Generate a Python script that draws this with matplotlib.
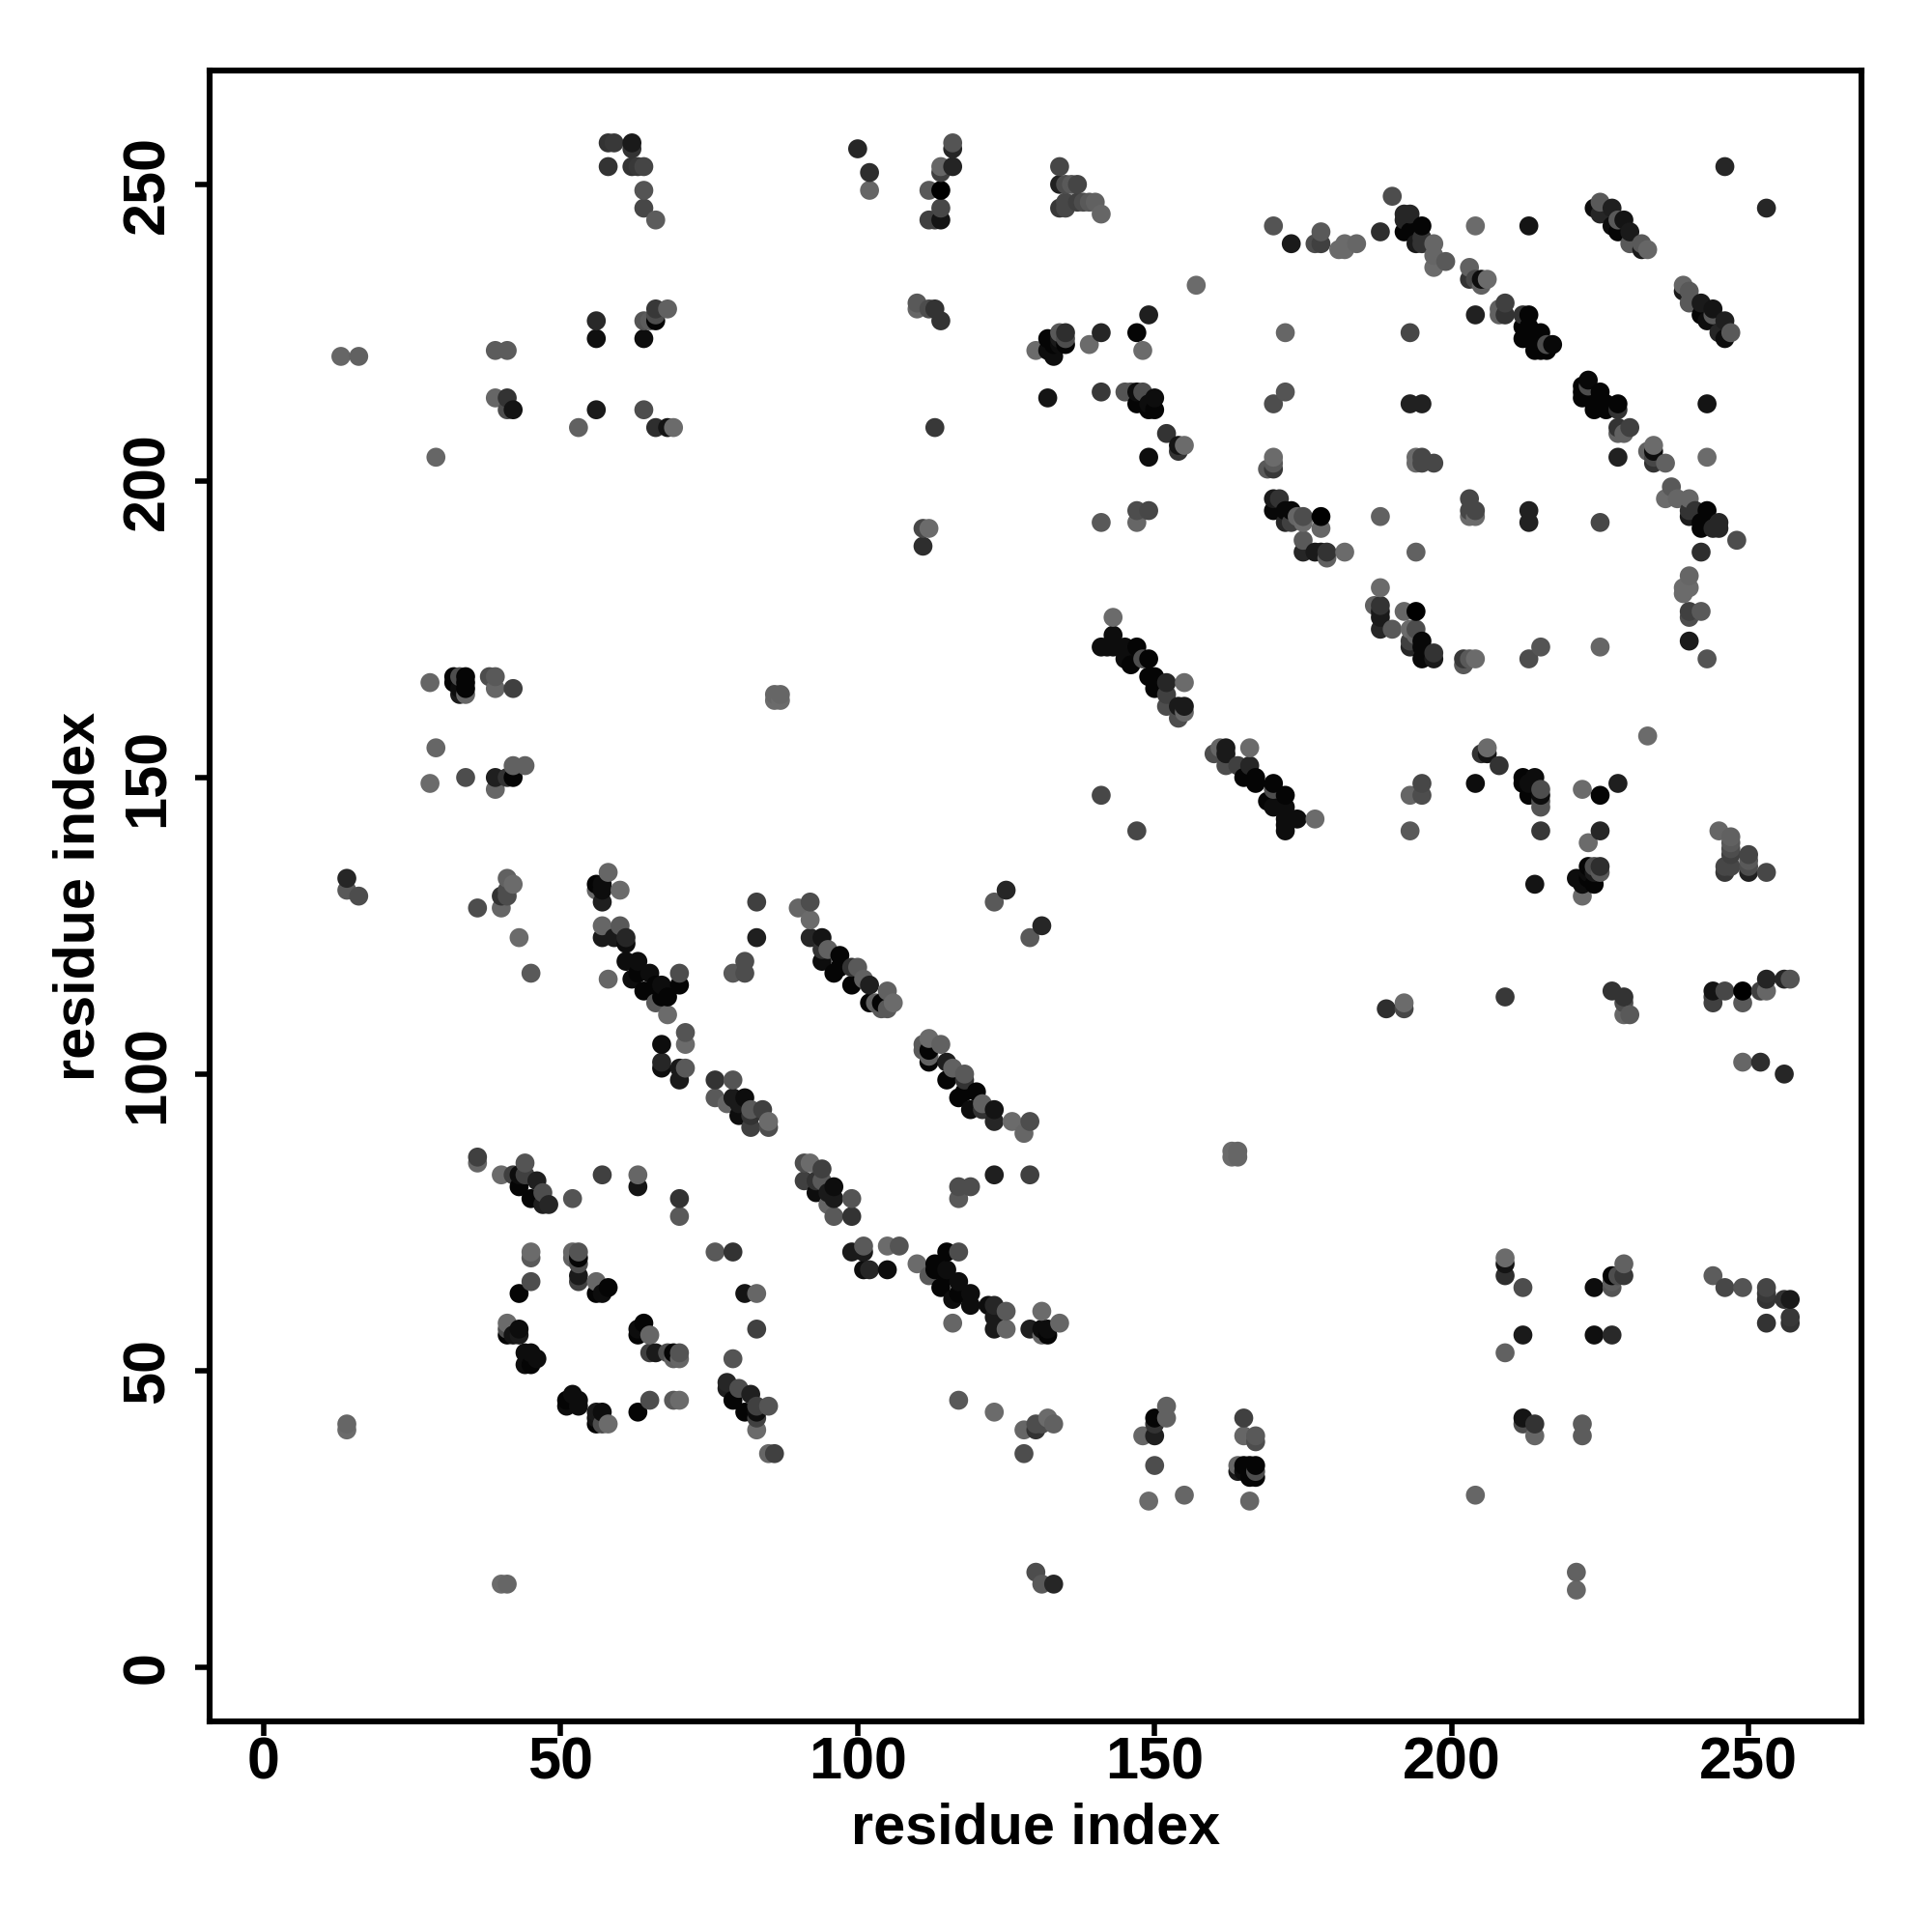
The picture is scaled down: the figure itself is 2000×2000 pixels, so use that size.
import numpy as np
import matplotlib
matplotlib.use("Agg")
import matplotlib.pyplot as plt

res_i = [
    58, 59, 62, 62, 58, 62, 63, 64, 64, 64, 66,
    66, 68, 56, 64, 65, 66, 66, 56, 64, 13, 16, 39, 41, 39, 41, 41, 42, 56, 64, 53, 66, 68, 69, 29,
    100, 102, 102, 116, 116, 116, 114, 114, 112, 114, 114, 112, 113, 114,
    134, 134, 135, 136, 137, 134, 135, 135, 137, 138, 139, 140, 141, 170, 173, 157,
    110, 110, 112, 113, 114, 149, 141, 147, 135, 134, 172, 139, 148, 130, 132, 132, 133, 133, 135, 134, 134, 135,
    132, 141, 145, 146, 147, 148, 147, 149, 150, 150, 149, 113, 152, 154, 154, 155, 149, 170, 170, 169, 170,
    170, 171, 170, 172, 173, 172, 173, 174, 175, 175, 175, 175, 147, 149, 141, 147, 111, 112, 111,
    143, 143, 172, 170,
    190, 246, 192, 193, 192, 192, 193, 194, 195, 195, 195, 188, 178, 178, 177, 181, 182, 182, 184, 197, 197, 197, 199,
    204, 213, 203, 203, 204, 205, 205, 206, 204, 209, 208, 208, 209, 212, 213, 212, 213, 212, 214, 215, 214, 215, 214, 216, 216, 217, 193,
    225, 224, 225, 227, 227, 228, 229, 228, 230, 230, 232, 232, 233,
    193, 195, 194, 195, 194, 195, 197, 178, 178, 177, 178, 179, 179, 182, 188,
    141, 142, 143, 145, 147, 149, 146, 148, 149, 150, 150, 152, 152, 152, 155, 155, 154, 154, 155, 145,
    141, 125, 123, 86, 87, 86, 87,
    90, 92, 92, 92, 94, 94, 95, 94, 96, 97, 97, 99, 99, 100, 101, 102, 102, 103, 104, 105, 105, 106, 104,
    28, 32, 32, 33, 33, 34, 34, 34, 34, 33, 38, 39, 39, 42,
    29, 28, 34, 39, 41, 42, 39, 42, 44,
    14, 14, 16, 41, 42, 40, 41, 40, 41, 36, 43, 45,
    58, 56, 57, 57, 56, 57, 60, 57, 57, 60, 59, 61, 61, 58,
    61, 63, 63, 62, 64, 65, 66, 67, 68, 67, 70, 70, 68, 66,
    71, 71, 67, 67, 67, 71, 70, 70, 76, 79, 76, 78, 79, 81, 80, 82, 82, 80,
    85, 85, 82, 84, 83, 83, 81, 79, 81,
    36, 36, 57, 63, 63, 70, 70, 52, 40, 44, 42, 43, 43, 44, 46, 45, 47, 47, 48,
    45, 45, 45, 43, 52, 53, 52, 53, 53, 53, 53, 56, 56, 57, 58,
    41, 41, 43, 41, 42, 43, 44, 45, 46, 44, 45,
    14, 14,
]
res_j = [
    257, 257, 257, 256, 253, 253, 253, 253, 249, 246, 244,
    229, 229, 227, 227, 227, 228, 227, 224, 224, 221, 221, 222, 222, 214, 214, 212, 212, 212, 212, 209, 209, 209, 209, 204,
    256, 252, 249, 257, 256, 253, 253, 252, 249, 249, 246, 244, 244, 244,
    253, 250, 250, 250, 250, 246, 247, 246, 247, 247, 247, 247, 245, 243, 240, 233,
    230, 229, 229, 229, 227, 228, 225, 225, 225, 225, 225, 223, 222, 222, 224, 222, 223, 221, 223, 223, 224, 224,
    214, 215, 215, 215, 215, 215, 213, 213, 214, 212, 212, 209, 208, 205, 206, 206, 204, 204, 202, 202, 203,
    197, 197, 195, 195, 195, 193, 193, 194, 194, 193, 190, 188, 195, 195, 193, 193, 192, 192, 189,
    177, 174, 215, 213,
    248, 253, 245, 245, 244, 242, 242, 240, 243, 241, 240, 242, 242, 240, 240, 239, 240, 239, 240, 240, 238, 236, 237,
    243, 243, 236, 234, 234, 234, 233, 234, 228, 230, 229, 228, 228, 228, 228, 226, 226, 224, 225, 225, 223, 222, 222, 222, 223, 223, 225,
    247, 246, 245, 246, 243, 242, 244, 244, 242, 240, 240, 239, 239,
    213, 213, 204, 204, 203, 203, 203, 194, 192, 188, 188, 188, 187, 188, 194,
    172, 172, 172, 172, 172, 170, 169, 170, 167, 167, 165, 166, 164, 162, 166, 162, 162, 160, 161, 170,
    147, 131, 129, 164, 164, 163, 163,
    128, 129, 126, 123, 123, 121, 121, 119, 117, 120, 118, 115, 118, 118, 116, 115, 112, 112, 112, 114, 111, 112, 111,
    166, 167, 166, 167, 165, 167, 166, 165, 164, 164, 167, 167, 165, 165,
    155, 149, 150, 150, 150, 150, 148, 152, 152,
    133, 131, 130, 133, 132, 130, 130, 128, 131, 128, 123, 117,
    134, 132, 132, 131, 131, 129, 131, 125, 123, 125, 123, 123, 122, 116,
    119, 119, 117, 116, 114, 117, 115, 113, 113, 115, 115, 117, 110, 112,
    107, 105, 105, 102, 101, 101, 101, 99, 99, 99, 96, 95, 96, 96, 93, 94, 91, 95,
    92, 91, 93, 94, 129, 123, 119, 117, 117,
    86, 85, 83, 83, 81, 79, 76, 79, 83, 85, 83, 81, 83, 83, 82, 79, 80, 78, 78,
    70, 69, 65, 63, 70, 70, 69, 69, 68, 66, 65, 65, 63, 63, 64,
    58, 57, 57, 56, 56, 56, 53, 53, 52, 51, 51,
    41, 40,
]
grey = [
    .2, .22, .1, .2, .2, .2, .22, .27, .33, .28, .36,
    .22, .38, .16, .33, .36, .3, .02, .06, .05, .4, .38, .36, .36, .4, .2, .3, .08, .1, .3, .38, .18, .08, .42, .4,
    .15, .18, .4, .33, .15, .14, .4, .25, .35, 0, .28, .25, .25, .08,
    .28, .13, .3, .35, .27, .22, .28, .28, .25, .3, .35, .38, .4, .33, .1, .42,
    .35, .4, .3, .2, .2, .12, .15, .02, .18, .35, .4, .42, .42, .42, .02, .05, .02, .05, .02, .05, .1, .3,
    .08, .22, .33, .33, .05, .3, .02, .05, .05, .02, .02, .22, .2, .2, .08, .42, .05, .42, .22, .35, .35,
    .1, .2, .03, .03, .03, .15, .25, .4, .3, .42, .35, .15, .3, .28, .35, .4, .28, .42, .18,
    .42, .05, .33, .3,
    .3, .15, .15, .15, .15, .02, .02, .1, .02, .2, .2, .18, .35, .25, .3, .42, .42, .42, .4, .4, .4, .42, .35,
    .42, .08, .38, .2, .28, .05, .38, .42, .13, .25, .38, .38, .2, .2, .02, .02, .02, .02, .02, .02, .02, .02, .02, .02, .3, .03, .28,
    .35, .05, .15, .12, .05, .02, .08, .35, .1, .35, .35, .1, .4,
    .13, .13, .42, .28, .42, .28, .28, 0, .4, .1, .1, .2, .38, .42, .38,
    .05, .05, .05, .05, .02, .02, .02, .3, .02, .02, .02, .15, .25, .3, .42, .1, .1, .3, .4, .05,
    .28, .15, .35, .4, .4, .42, .42,
    .4, .3, .42, .15, .08, .2, .38, .05, .02, .02, .02, .02, .2, .35, .38, .12, .02, .38, .02, .38, .35, .42, .35,
    .4, .02, .02, .3, .05, .02, .02, .02, .4, .1, .3, .35, .4, .25,
    .4, .42, .3, .12, .2, .02, .4, .38, .38,
    .15, .35, .3, .38, .42, .2, .3, .4, .3, .3, .42, .35,
    .4, .02, .05, .05, .4, .12, .42, .4, .1, .35, .1, .15, .05, .4,
    .05, .05, .02, .05, .02, .05, .02, .02, .02, .05, .02, .3, .42, .35,
    .33, .42, .05, .15, .05, .35, .1, .1, .2, .33, .35, .4, .1, .05, .05, .35, .25, .1,
    .42, .3, .2, .25, .25, .12, .3, .35, .3,
    .25, .4, .25, .4, .08, .2, .35, .33, .42, .33, .25, .02, .05, .25, .12, .02, .3, .12, .15,
    .42, .35, .3, .02, .4, .33, .38, .02, .3, .1, .25, .4, .02, .05, .02,
    .42, .3, .05, .02, .08, .1, .05, .05, .05, .05, .02,
    .4, .42,
]
x_ticks = [0, 50, 100, 150, 200, 250]

plt.rcParams['font.family'] = ['Liberation Sans', 'DejaVu Sans']

# every contact goes in both ways round, later x and y sit on top
xs = np.array(res_i + res_j)
ys = np.array(res_j + res_i)
gs = np.array(grey + grey)
order = np.lexsort((ys, xs))

fig = plt.figure(figsize=(10, 10), dpi=200)
ax = fig.add_axes([217 / 2000, 1 - 1782 / 2000, 1710 / 2000, 1709 / 2000])
ax.scatter(xs[order], ys[order], s=50, c=[str(g) for g in gs[order]], linewidths=0, clip_on=True)

ax.set_xlim(-9.1, 269)
ax.set_ylim(-9.15, 269.2)
ax.set_xticks(x_ticks)
ax.set_yticks(x_ticks)
ax.tick_params(length=5.5, width=2.0)
ax.tick_params(axis='x', pad=0)
ax.tick_params(axis='y', pad=7)
for t in ax.get_xticklabels():
    t.set_fontsize(22)
    t.set_fontweight('bold')
for t in ax.get_yticklabels():
    t.set_fontsize(22)
    t.set_fontweight('bold')
    t.set_rotation(90)
    t.set_va('center')
for s in ax.spines.values():
    s.set_linewidth(2.2)

ax.set_xlabel("residue index", fontsize=21.4, fontweight='bold', labelpad=4)
ax.set_ylabel("residue index", fontsize=21.4, fontweight='bold', labelpad=5.5)

assert len(res_i) == len(res_j) == len(grey)
fig.savefig("out.png", dpi=200, facecolor="white")
